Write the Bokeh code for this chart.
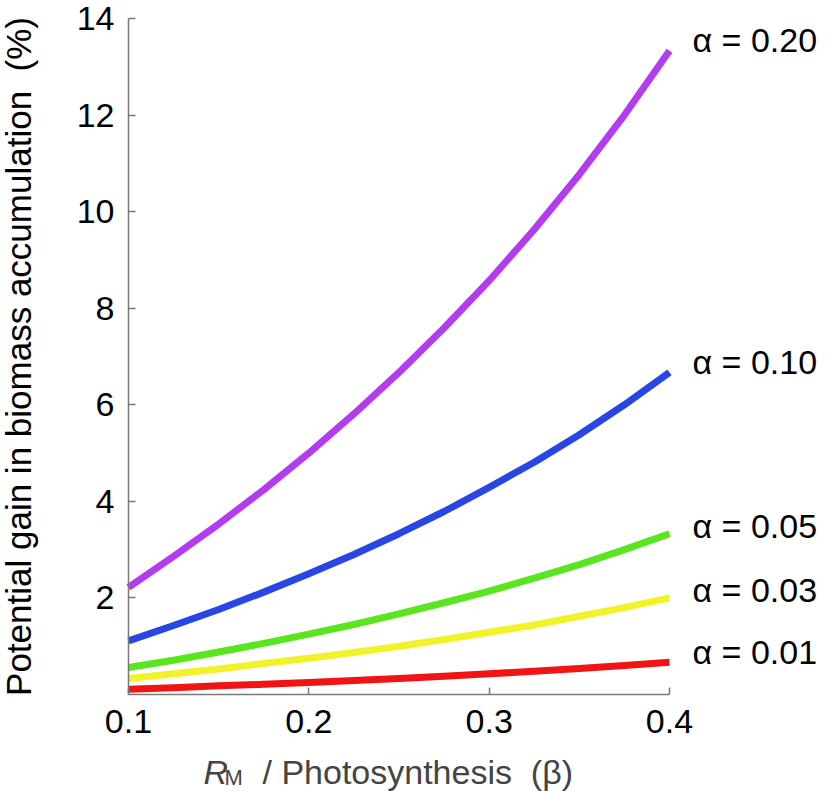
from bokeh.plotting import figure
from bokeh.models import FixedTicker, Label, ColumnDataSource
from bokeh.embed import file_html
from bokeh.resources import INLINE

# ---- data ----
beta = [0.100, 0.125, 0.150, 0.175, 0.200, 0.225, 0.250, 0.275, 0.300, 0.325, 0.350, 0.375, 0.400]
gain_a020 = [2.22, 2.86, 3.53, 4.24, 5.00, 5.81, 6.67, 7.59, 8.57, 9.63, 10.77, 12.00, 13.33]
gain_a010 = [1.11, 1.43, 1.76, 2.12, 2.50, 2.90, 3.33, 3.79, 4.29, 4.81, 5.38, 6.00, 6.67]
gain_a005 = [0.56, 0.71, 0.88, 1.06, 1.25, 1.45, 1.67, 1.90, 2.14, 2.41, 2.69, 3.00, 3.33]
gain_a003 = [0.33, 0.43, 0.53, 0.64, 0.75, 0.87, 1.00, 1.14, 1.29, 1.44, 1.62, 1.80, 2.00]
gain_a001 = [0.11, 0.14, 0.18, 0.21, 0.25, 0.29, 0.33, 0.38, 0.43, 0.48, 0.54, 0.60, 0.67]
series_labels = ["α = 0.20", "α = 0.10", "α = 0.05", "α = 0.03", "α = 0.01"]
x_ticks = [0.1, 0.2, 0.3, 0.4]
y_ticks = [2, 4, 6, 8, 10, 12, 14]
x_lim = (0.1, 0.4)
y_lim = (0, 14)

# ---- layout / styles ----
colors = ["#B43CF0", "#2846E6", "#5AE61E", "#F2F22A", "#F01414"]
label_dy = [11, 10, 8, 8, 10]
FONT = "Liberation Sans"
W, H = 826, 791
# pixel box of the data area inside the canvas
PX_L, PX_R, PX_T, PX_B = 128, 669, 18, 694
sx = (x_lim[1] - x_lim[0]) / (PX_R - PX_L)
sy = (y_lim[1] - y_lim[0]) / (PX_B - PX_T)
xr = (x_lim[0] - PX_L * sx, x_lim[1] + (W - PX_R) * sx)
yr = (y_lim[0] - (H - PX_B) * sy, y_lim[1] + PX_T * sy)

p = figure(width=W, height=H, x_range=xr, y_range=yr,
           output_backend="svg", toolbar_location=None,
           min_border_left=0, min_border_right=0,
           min_border_top=0, min_border_bottom=0)
p.grid.visible = False
p.outline_line_color = None
p.background_fill_color = "white"

series = [gain_a020, gain_a010, gain_a005, gain_a003, gain_a001]
for ys, c, lab, dy in zip(series, colors, series_labels, label_dy):
    src = ColumnDataSource(dict(x=beta, y=ys))
    p.line("x", "y", source=src, line_color=c, line_width=7, line_cap="butt", line_join="round")
    p.add_layout(Label(x=beta[-1], y=ys[-1], x_offset=23, y_offset=dy, text=lab,
                       text_font=FONT, text_font_size="34px", text_color="black",
                       text_baseline="middle", text_align="left"))

for ax in (p.xaxis[0], p.yaxis[0]):
    ax.axis_line_color = "#7a7a7a"
    ax.axis_line_width = 1.5
    ax.major_tick_line_color = "#7a7a7a"
    ax.major_tick_line_width = 1.5
    ax.major_tick_in = 7
    ax.major_tick_out = 0
    ax.minor_tick_line_color = None
    ax.major_label_text_font = FONT
    ax.major_label_text_font_size = "34px"
    ax.major_label_text_color = "black"
    ax.axis_label_text_font = FONT
    ax.axis_label_text_font_style = "normal"
    ax.axis_label_text_color = "black"

p.xaxis.fixed_location = y_lim[0]
p.xaxis.bounds = x_lim
p.yaxis.fixed_location = x_lim[0]
p.yaxis.bounds = y_lim
p.xaxis.ticker = FixedTicker(ticks=x_ticks)
p.yaxis.ticker = FixedTicker(ticks=y_ticks)
p.xaxis.major_label_standoff = 15
p.yaxis.major_label_standoff = 14
p.yaxis.axis_label = "Potential gain in biomass accumulation\u00a0\u00a0(%)"
p.yaxis.axis_label_text_font_size = "35px"
p.yaxis.axis_label_standoff = 36

# composite x-axis title: italic R, subscript M, rest
p.add_layout(Label(x=x_lim[0], y=y_lim[0], x_offset=75, y_offset=-77, text="R",
                   text_font=FONT, text_font_size="34px", text_font_style="italic",
                   text_baseline="alphabetic", text_align="left"))
p.add_layout(Label(x=x_lim[0], y=y_lim[0], x_offset=96, y_offset=-83, text="M",
                   text_font=FONT, text_font_size="22px",
                   text_baseline="alphabetic", text_align="left"))
p.add_layout(Label(x=x_lim[0], y=y_lim[0], x_offset=134, y_offset=-77,
                   text="/ Photosynthesis\u00a0\u00a0(β)",
                   text_font=FONT, text_font_size="34px",
                   text_baseline="alphabetic", text_align="left"))

open("out.html", "w").write(file_html(p, INLINE))
